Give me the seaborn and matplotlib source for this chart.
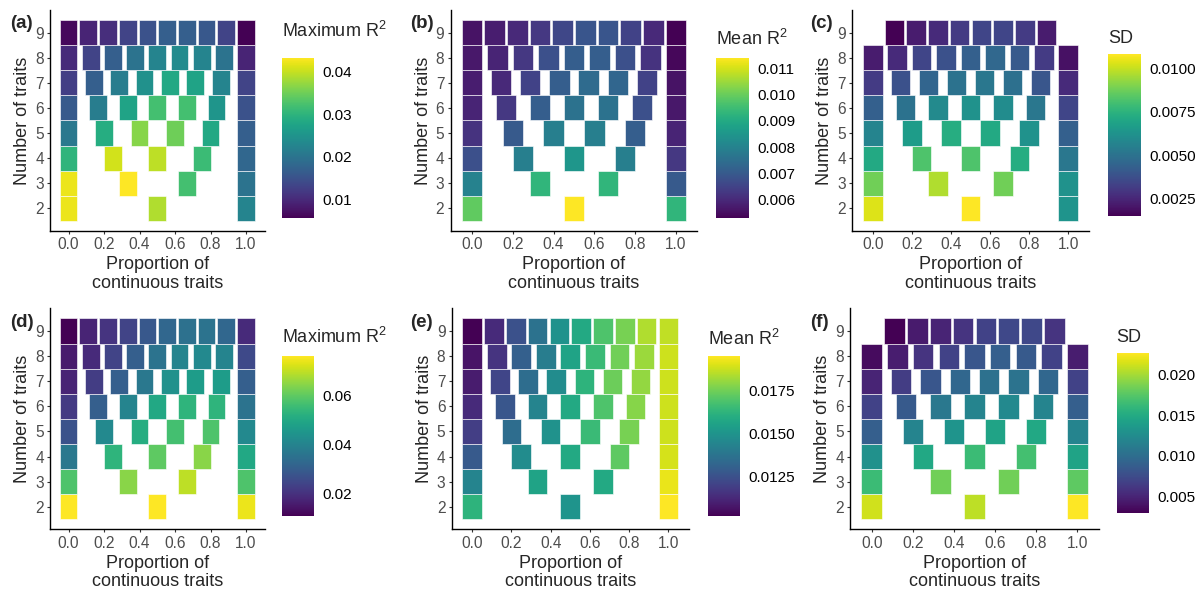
import numpy as np
import pandas as pd
import matplotlib
matplotlib.use("Agg")
import matplotlib.pyplot as plt
import seaborn as sns
from matplotlib.colors import Normalize
from matplotlib.colorbar import ColorbarBase

sns.set_style("ticks")
plt.rcParams["font.family"] = ["Liberation Sans", "DejaVu Sans"]

# Data: one row per number of traits (2..9), values for k = 0..n continuous traits
n_traits = [2, 3, 4, 5, 6, 7, 8, 9]
nan = np.nan

max_r2_a = [
    [0.0422, 0.0388, 0.0225],
    [0.0422, 0.0433, 0.0320, 0.0199],
    [0.0301, 0.0407, 0.0395, 0.0312, 0.0180],
    [0.0206, 0.0289, 0.0365, 0.0350, 0.0282, 0.0168],
    [0.0161, 0.0214, 0.0274, 0.0320, 0.0320, 0.0252, 0.0150],
    [0.0123, 0.0168, 0.0214, 0.0244, 0.0282, 0.0274, 0.0225, 0.0131],
    [0.0100, 0.0131, 0.0168, 0.0199, 0.0225, 0.0236, 0.0225, 0.0199, 0.0093],
    [0.0063, 0.0093, 0.0104, 0.0131, 0.0150, 0.0168, 0.0168, 0.0157, 0.0131, 0.0055],
]
mean_r2_b = [
    [0.0099, 0.0114, 0.0093],
    [0.0080, 0.0093, 0.0093, 0.0070],
    [0.0068, 0.0079, 0.0085, 0.0079, 0.0063],
    [0.0062, 0.0070, 0.0079, 0.0079, 0.0071, 0.0059],
    [0.0059, 0.0063, 0.0071, 0.0076, 0.0076, 0.0068, 0.0057],
    [0.0058, 0.0060, 0.0065, 0.0071, 0.0074, 0.0073, 0.0065, 0.0056],
    [0.0057, 0.0059, 0.0063, 0.0068, 0.0071, 0.0071, 0.0068, 0.0062, 0.0054],
    [0.0056, 0.0058, 0.0060, 0.0063, 0.0066, 0.0069, 0.0069, 0.0065, 0.0060, 0.0053],
]
sd_c = [
    [0.0103, 0.0108, 0.0063],
    [0.0088, 0.0097, 0.0088, 0.0062],
    [0.0071, 0.0082, 0.0082, 0.0073, 0.0052],
    [0.0057, 0.0066, 0.0073, 0.0071, 0.0062, 0.0043],
    [0.0043, 0.0050, 0.0059, 0.0062, 0.0060, 0.0052, 0.0034],
    [0.0031, 0.0038, 0.0045, 0.0050, 0.0052, 0.0049, 0.0040, 0.0026],
    [0.0022, 0.0026, 0.0034, 0.0038, 0.0043, 0.0046, 0.0041, 0.0031, 0.0019],
    [nan, 0.0015, 0.0022, 0.0026, 0.0031, 0.0034, 0.0034, 0.0031, 0.0022, nan],
]
max_r2_d = [
    [0.0760, 0.0760, 0.0740],
    [0.0577, 0.0643, 0.0695, 0.0577],
    [0.0369, 0.0532, 0.0597, 0.0643, 0.0499],
    [0.0271, 0.0414, 0.0512, 0.0564, 0.0577, 0.0414],
    [0.0219, 0.0304, 0.0401, 0.0499, 0.0532, 0.0532, 0.0356],
    [0.0173, 0.0225, 0.0304, 0.0369, 0.0434, 0.0467, 0.0467, 0.0304],
    [0.0154, 0.0186, 0.0238, 0.0304, 0.0356, 0.0401, 0.0414, 0.0401, 0.0251],
    [0.0108, 0.0173, 0.0206, 0.0238, 0.0284, 0.0323, 0.0349, 0.0356, 0.0323, 0.0186],
]
mean_r2_e = [
    [0.0162, 0.0150, 0.0195],
    [0.0144, 0.0156, 0.0158, 0.0192],
    [0.0128, 0.0147, 0.0158, 0.0172, 0.0189],
    [0.0119, 0.0135, 0.0149, 0.0165, 0.0176, 0.0188],
    [0.0113, 0.0127, 0.0144, 0.0158, 0.0169, 0.0178, 0.0188],
    [0.0109, 0.0121, 0.0135, 0.0147, 0.0162, 0.0174, 0.0180, 0.0188],
    [0.0107, 0.0116, 0.0130, 0.0141, 0.0156, 0.0165, 0.0175, 0.0181, 0.0188],
    [0.0102, 0.0113, 0.0125, 0.0137, 0.0149, 0.0158, 0.0169, 0.0176, 0.0184, 0.0186],
]
sd_f = [
    [0.0213, 0.0207, 0.0227],
    [0.0164, 0.0184, 0.0184, 0.0178],
    [0.0129, 0.0148, 0.0164, 0.0168, 0.0144],
    [0.0089, 0.0119, 0.0132, 0.0144, 0.0148, 0.0119],
    [0.0069, 0.0085, 0.0109, 0.0119, 0.0123, 0.0119, 0.0089],
    [0.0050, 0.0065, 0.0083, 0.0095, 0.0103, 0.0105, 0.0095, 0.0069],
    [0.0036, 0.0046, 0.0060, 0.0069, 0.0083, 0.0089, 0.0085, 0.0069, 0.0046],
    [nan, 0.0030, 0.0044, 0.0050, 0.0060, 0.0069, 0.0073, 0.0073, 0.0060, nan],
]

panel_tags = ["(a)", "(b)", "(c)", "(d)", "(e)", "(f)"]
legend_titles = ["Maximum R$\\mathregular{^2}$", "Mean R$\\mathregular{^2}$", "SD",
                 "Maximum R$\\mathregular{^2}$", "Mean R$\\mathregular{^2}$", "SD"]
legend_ticks = [[0.01, 0.02, 0.03, 0.04],
                [0.006, 0.007, 0.008, 0.009, 0.010, 0.011],
                [0.0025, 0.0050, 0.0075, 0.0100],
                [0.02, 0.04, 0.06],
                [0.0125, 0.0150, 0.0175],
                [0.005, 0.010, 0.015, 0.020]]
legend_fmt = ["{:.2f}", "{:.3f}", "{:.4f}", "{:.2f}", "{:.4f}", "{:.3f}"]
x_ticks = [0.0, 0.2, 0.4, 0.6, 0.8, 1.0]


def to_long(rows):
    recs = []
    for n, vals in zip(n_traits, rows):
        for k, v in enumerate(vals):
            recs.append({"n": n, "prop": k / n, "value": v})
    return pd.DataFrame(recs).dropna()


datasets = [max_r2_a, mean_r2_b, sd_c, max_r2_d, mean_r2_e, sd_f]

# layout in pixels: (left, top, right, bottom)
W, H = 1204, 594
ax_box = [(50, 10, 264.6, 230.9), (450.6, 10, 697.4, 230.9), (852.2, 10, 1088.8, 230.9),
          (50, 308.4, 264.6, 529.3), (451.7, 308.4, 688.9, 529.3), (850.1, 308.4, 1098.9, 529.3)]
cb_box = [(282.3, 57.7, 314.3, 218.3), (716, 57.7, 749, 218.3), (1108, 54.3, 1141, 216),
          (282, 356, 314, 516), (708, 356, 740, 516), (1116.7, 353, 1149.3, 512.7)]
title_base = [37, 45, 43, 343, 345, 342]
tag_pos = [(10, 28), (410, 28), (810, 28), (10, 327), (410, 327), (810, 327)]


def px_axes(fig, box):
    l, t, r, b = box
    return fig.add_axes([l / W, 1 - b / H, (r - l) / W, (b - t) / H])


cmap = sns.color_palette("viridis", as_cmap=True)
fig = plt.figure(figsize=(W / 100, H / 100), dpi=100)

for i, rows in enumerate(datasets):
    df = to_long(rows)
    norm = Normalize(df["value"].min(), df["value"].max())
    ax = px_axes(fig, ax_box[i])
    ax.bar(df["prop"], 1, width=0.1, bottom=df["n"] - 0.5,
           color=cmap(norm(df["value"].values)),
           edgecolor=(1, 1, 1, 0.7), linewidth=0.6)
    ax.set_xlim(-0.105, 1.105)
    ax.set_ylim(1.1, 9.9)
    ax.set_xticks(x_ticks)
    ax.set_xticklabels([f"{t:.1f}" for t in x_ticks])
    ax.set_yticks(n_traits)
    ax.tick_params(labelsize=11.2, labelcolor="#4D4D4D", color="#333333",
                   length=2.5, width=0.8, pad=2)
    ax.set_xlabel("Proportion of\ncontinuous traits", fontsize=13, labelpad=3,
                  linespacing=1.1)
    ax.set_ylabel("Number of traits", fontsize=13, labelpad=3)
    sns.despine(ax=ax)
    for s in ["left", "bottom"]:
        ax.spines[s].set_color("black")
        ax.spines[s].set_linewidth(1.0)

    cax = px_axes(fig, cb_box[i])
    cb = ColorbarBase(cax, cmap=cmap, norm=norm, orientation="vertical")
    cb.outline.set_visible(False)
    cb.set_ticks(legend_ticks[i])
    cb.set_ticklabels([legend_fmt[i].format(t) for t in legend_ticks[i]])
    cax.tick_params(direction="in", length=4.6, width=0.7, color=(1, 1, 1, 0.7),
                    left=True, right=True, labelleft=False, labelright=True,
                    labelsize=11, labelcolor="black", pad=6)
    fig.text(cb_box[i][0] / W, 1 - title_base[i] / H, legend_titles[i],
             fontsize=13, ha="left", va="baseline")
    fig.text(tag_pos[i][0] / W, 1 - tag_pos[i][1] / H, panel_tags[i],
             fontsize=13.5, fontweight="bold", ha="left", va="baseline")

fig.savefig("out.png", dpi=100, facecolor="white")
